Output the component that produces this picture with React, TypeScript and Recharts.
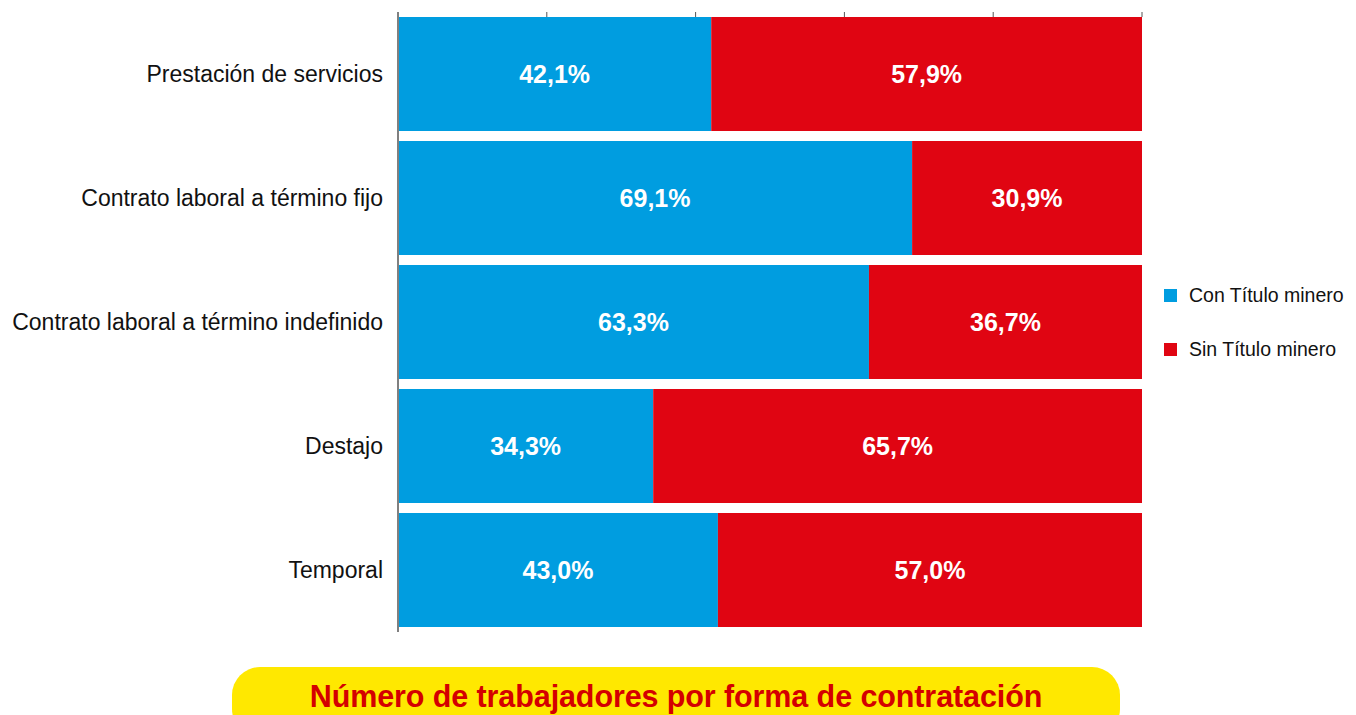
import React from 'react';
import { BarChart, Bar, XAxis, YAxis, Legend, LabelList } from 'recharts';

const categories = [
  'Prestación de servicios',
  'Contrato laboral a término fijo',
  'Contrato laboral a término indefinido',
  'Destajo',
  'Temporal',
];
const conTitulo = [42.1, 69.1, 63.3, 34.3, 43.0];
const sinTitulo = [57.9, 30.9, 36.7, 65.7, 57.0];
const xTicks = [0, 20, 40, 60, 80, 100];

const data = categories.map((name, i) => ({ name, con: conTitulo[i], sin: sinTitulo[i] }));

const BLUE = '#009DE0';
const RED = '#E00512';
const FONT = '"Liberation Sans", Arial, sans-serif';

const pct = (v: any) => Number(v).toFixed(1).replace('.', ',') + '%';

const LegendBox = (props: any) => {
  const { payload = [] } = props;
  return (
    <div>
      {payload.map((entry: any, i: number) => (
        <div key={`leg-${i}`} style={{ display: 'flex', alignItems: 'center', height: 54 }}>
          <span style={{ width: 13, height: 13, background: entry.color, marginRight: 12 }} />
          <span style={{ fontFamily: FONT, fontSize: 19.5, color: '#111' }}>{entry.value}</span>
        </div>
      ))}
    </div>
  );
};

export default function App() {
  return (
    <div style={{ position: 'absolute', left: 0, top: 0, width: 1356, height: 715, background: '#fff', overflow: 'hidden' }}>
      <BarChart
        width={1356}
        height={715}
        data={data}
        layout="vertical"
        margin={{ top: 12, right: 214, bottom: 83, left: 0 }}
        barCategoryGap={5}
      >
        <XAxis
          xAxisId="top"
          orientation="top"
          type="number"
          domain={[0, 100]}
          ticks={xTicks}
          mirror
          axisLine={false}
          tickLine={{ stroke: '#555' }}
          tickSize={5}
          tickFormatter={() => ''}
        />
        <XAxis
          xAxisId="bottom"
          orientation="bottom"
          type="number"
          domain={[0, 100]}
          ticks={xTicks}
          mirror
          axisLine={false}
          tickLine={{ stroke: '#555' }}
          tickSize={5}
          tickFormatter={() => ''}
        />
        <YAxis
          type="category"
          dataKey="name"
          width={398}
          axisLine={{ stroke: '#808080', strokeWidth: 2 }}
          tickLine={false}
          tickSize={0}
          tickMargin={15}
          tick={{ fill: '#111', fontSize: 23, fontFamily: FONT }}
        />
        <Legend
          layout="vertical"
          align="center"
          verticalAlign="middle"
          content={<LegendBox />}
          wrapperStyle={{ left: 1164, top: 268, width: 192 }}
        />
        <Bar xAxisId="top" dataKey="con" name="Con Título minero" stackId="a" fill={BLUE} isAnimationActive={false}>
          <LabelList
            dataKey="con"
            position="center"
            formatter={pct}
            fill="#fff"
            fontSize={25}
            fontWeight="bold"
            fontFamily={FONT}
          />
        </Bar>
        <Bar xAxisId="top" dataKey="sin" name="Sin Título minero" stackId="a" fill={RED} isAnimationActive={false}>
          <LabelList
            dataKey="sin"
            position="center"
            formatter={pct}
            fill="#fff"
            fontSize={25}
            fontWeight="bold"
            fontFamily={FONT}
          />
        </Bar>
      </BarChart>
      <div
        style={{
          position: 'absolute',
          left: 232,
          top: 667,
          width: 888,
          height: 70,
          borderRadius: 28,
          background: '#FFE800',
          color: '#D40000',
          fontFamily: FONT,
          fontWeight: 'bold',
          fontSize: 30.5,
          letterSpacing: -0.1,
          textAlign: 'center',
          lineHeight: '58px',
        }}
      >
        Número de trabajadores por forma de contratación
      </div>
    </div>
  );
}
